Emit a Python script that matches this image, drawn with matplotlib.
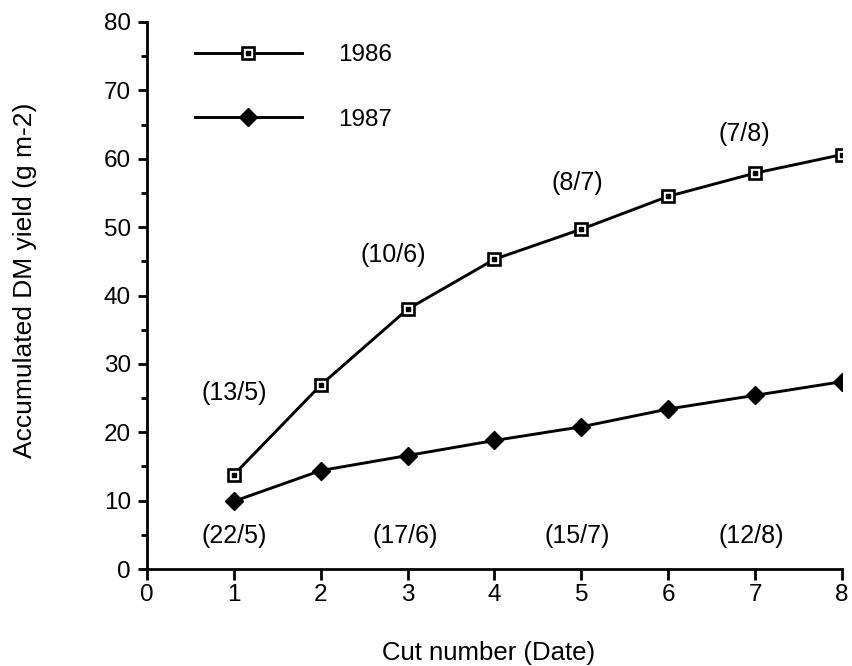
import matplotlib
matplotlib.use("Agg")
import matplotlib.pyplot as plt
from matplotlib.ticker import MultipleLocator

plt.rcParams['font.family'] = ['Liberation Sans', 'DejaVu Sans']

# cut numbers and accumulated dry matter yield (g m-2)
cuts = [1, 2, 3, 4, 5, 6, 7, 8]
yield_1986 = [13.8, 26.9, 38.0, 45.3, 49.7, 54.5, 57.9, 60.6]
yield_1987 = [9.9, 14.4, 16.6, 18.8, 20.8, 23.4, 25.4, 27.4]

# cut dates shown next to the curves
dates_1986 = ["(13/5)", "(10/6)", "(8/7)", "(7/8)"]
dates_1987 = ["(22/5)", "(17/6)", "(15/7)", "(12/8)"]

fig = plt.figure(figsize=(8.53, 6.66), dpi=100)
ax = fig.add_axes([0.1723, 0.1456, 0.8148, 0.8214])

l86, = ax.plot(cuts, yield_1986, color='black', lw=2.1, marker='s', ms=9,
               mfc='white', mec='black', mew=1.9, label='1986', zorder=3)
d86, = ax.plot(cuts, yield_1986, ls='none', marker='s', ms=2.3,
               color='black', zorder=4)
l87, = ax.plot(cuts, yield_1987, color='black', lw=2.1, marker='D', ms=9,
               mfc='black', mec='black', label='1987', zorder=3)

ax.legend([(l86, d86), l87], ['1986', '1987'], loc='upper left',
          bbox_to_anchor=(0.069, 0.959), frameon=False, fontsize=17.5,
          handlelength=4.4, handletextpad=1.5, labelspacing=1.75,
          borderpad=0, borderaxespad=0)

# date labels
fs_date = 18
ax.text(1.0, 25.7, dates_1986[0], ha='center', va='center', fontsize=fs_date)
ax.text(2.84, 45.9, dates_1986[1], ha='center', va='center', fontsize=fs_date)
ax.text(4.95, 56.4, dates_1986[2], ha='center', va='center', fontsize=fs_date)
ax.text(6.88, 63.6, dates_1986[3], ha='center', va='center', fontsize=fs_date)
for xx, lab in zip([1.0, 2.97, 4.95, 6.95], dates_1987):
    ax.text(xx, 4.8, lab, ha='center', va='center', fontsize=fs_date)

ax.set_xlim(0, 8)
ax.set_ylim(0, 80)
ax.xaxis.set_major_locator(MultipleLocator(1))
ax.yaxis.set_major_locator(MultipleLocator(10))
ax.yaxis.set_minor_locator(MultipleLocator(5))
for side in ['top', 'right']:
    ax.spines[side].set_visible(False)
for side in ['left', 'bottom']:
    ax.spines[side].set_linewidth(2)
ax.tick_params(axis='x', which='major', length=8, width=2, labelsize=17.5, pad=3)
ax.tick_params(axis='y', which='major', length=6.5, width=2, labelsize=17.5, pad=5)
ax.tick_params(axis='y', which='minor', length=4.5, width=2)

ax.set_xlabel("Cut number (Date)", fontsize=18.5)
ax.set_ylabel("Accumulated DM yield (g m-2)", fontsize=19)
ax.xaxis.set_label_coords(0.491, -0.132)
ax.yaxis.set_label_coords(-0.158, 0.528)

fig.savefig("out.png", dpi=100)
